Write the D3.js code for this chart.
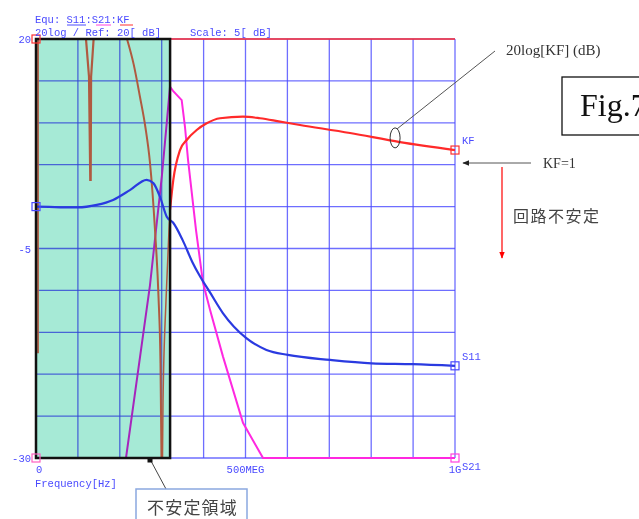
<!DOCTYPE html>
<html><head><meta charset="utf-8">
<script src="https://cdn.jsdelivr.net/npm/d3@7"></script>
<style>
html,body{margin:0;padding:0;background:#fff;}
svg{display:block;}
.mono{font-family:"Liberation Mono","DejaVu Sans Mono",monospace;font-size:10.5px;fill:#4a4aff;}
.serif{font-family:"Liberation Serif","DejaVu Serif",serif;fill:#333;}
.cjk{font-family:"Noto Sans CJK JP","Noto Sans CJK SC",sans-serif;fill:#444;}
</style></head>
<body>
<script>
// ---- data ----
const xTickLabels = [{v:0,t:"0"},{v:500,t:"500MEG"},{v:1000,t:"1G"}];
const yTickLabels = [{v:20,t:"20"},{v:-5,t:"-5"},{v:-30,t:"-30"}];
const freqMHz_S11 = [0,100,145,184,225,264,280,296,312,327,350,373,390,416,446,502,550,601,702,801,900,1000];
const dB_S11      = [0,-0.1,0.2,0.8,2.0,3.2,2.8,1.15,-1.2,-1.9,-4.0,-6.6,-8.2,-10.3,-12.7,-15.7,-17.1,-17.7,-18.3,-18.7,-18.8,-19.0];
const freqMHz_S21 = [0,214.8,272,300.7,312.6,319.8,327,347.7,355.6,362.8,381.9,398.6,415.3,446.3,494,541.8,1000];
const dB_S21      = [-30,-30,-9.4,3.8,10.3,14.3,13.8,12.7,9.5,5.6,-2.8,-9.1,-12.3,-17.9,-25.8,-30,-30];
const freqMHz_KF  = [319.8,327.7,343.7,359.7,383.5,407.4,439.1,494,534.6,582.3,630,749.4,868.7,1000];
const dB_KF       = [-0.4,3.2,6.75,7.95,9.14,9.94,10.54,10.73,10.54,10.14,9.74,8.78,7.7,6.75];
// brown traces inside the unstable band
const freqMHz_brownA = [4.8,4.8];
const dB_brownA      = [20,-17.5];
const freqMHz_brownB = [119.3,126.5,129.5,130.5,131.5,137.5];
const dB_brownB      = [20,15.5,3.2,3.2,15.5,20];
const freqMHz_brownC = [217.2,233,248.2,261,272.1,284,292.4,297.1,299.5];
const dB_brownC      = [20,17,13.08,9.5,5.2,-2.8,-10.8,-18.7,-30];
const freqMHz_brownD = [301.9,303.1,310.3,317.4,319.8];
const dB_brownD      = [-30,-23.4,-11.15,-2.8,-0.4];
const unstableBandMHz = [0,320];
const kfEllipseAt = {f:857,db:8.2};

const W=639,H=519;
const svg=d3.select("body").append("svg").attr("width",W).attr("height",H);
const x=d3.scaleLinear().domain([0,1000]).range([36,455]);
const y=d3.scaleLinear().domain([-30,20]).range([458,39]);
const zip=(a,b)=>a.map((v,i)=>[v,b[i]]);

// grid
const gridC="#4a4aff";
svg.append("g").selectAll("line").data(d3.range(0,1001,100)).join("line")
 .attr("x1",d=>x(d)).attr("x2",d=>x(d)).attr("y1",y(20)).attr("y2",y(-30))
 .attr("stroke",gridC).attr("stroke-width",1.3).attr("opacity",0.8);
svg.append("g").selectAll("line").data(d3.range(-30,21,5)).join("line")
 .attr("x1",x(0)).attr("x2",x(1000)).attr("y1",d=>y(d)).attr("y2",d=>y(d))
 .attr("stroke",gridC).attr("stroke-width",1.3).attr("opacity",0.8);
// top border red (KF clipped)
svg.append("line").attr("x1",x(0)).attr("x2",x(1000)).attr("y1",y(20)).attr("y2",y(20))
 .attr("stroke","#ff3030").attr("stroke-width",1.5);

const lineLin=d3.line().x(d=>x(d[0])).y(d=>y(d[1]));
const lineSm=d3.line().x(d=>x(d[0])).y(d=>y(d[1])).curve(d3.curveMonotoneX);

// S21 magenta
svg.append("path").attr("d",lineLin(zip(freqMHz_S21,dB_S21))).attr("fill","none")
 .attr("stroke","#ff28e0").attr("stroke-width",2);
// KF red
svg.append("path").attr("d",lineSm(zip(freqMHz_KF,dB_KF))).attr("fill","none")
 .attr("stroke","#ff2a2a").attr("stroke-width",2.2);

// unstable band overlay (multiply)
svg.append("rect").attr("x",x(unstableBandMHz[0])).attr("y",y(20))
 .attr("width",x(unstableBandMHz[1])-x(unstableBandMHz[0])).attr("height",y(-30)-y(20))
 .attr("fill","#a6ead6").style("mix-blend-mode","multiply");

// brown traces
const brownC="#b05a40";
svg.append("path").attr("d",lineLin(zip(freqMHz_brownA,dB_brownA))).attr("fill","none").attr("stroke",brownC).attr("stroke-width",1.8);
svg.append("path").attr("d",lineLin(zip(freqMHz_brownB,dB_brownB))).attr("fill","none").attr("stroke",brownC).attr("stroke-width",2.2);
svg.append("path").attr("d",lineSm(zip(freqMHz_brownC,dB_brownC))).attr("fill","none").attr("stroke",brownC).attr("stroke-width",2);
svg.append("path").attr("d",lineSm(zip(freqMHz_brownD,dB_brownD))).attr("fill","none").attr("stroke",brownC).attr("stroke-width",1.5);
// S11 blue
svg.append("path").attr("d",lineSm(zip(freqMHz_S11,dB_S11))).attr("fill","none")
 .attr("stroke","#2a3ae0").attr("stroke-width",2.2);

// band border
svg.append("rect").attr("x",x(unstableBandMHz[0])).attr("y",y(20))
 .attr("width",x(unstableBandMHz[1])-x(unstableBandMHz[0])).attr("height",y(-30)-y(20))
 .attr("fill","none").attr("stroke","#111").attr("stroke-width",2.5);

// markers
const mk=(f,db,c)=>svg.append("rect").attr("x",x(f)-4).attr("y",y(db)-4).attr("width",8).attr("height",8)
 .attr("fill","none").attr("stroke",c).attr("stroke-width",1.2);
mk(0,20,"#ff3030"); mk(0,dB_S11[0],"#4a4aff"); mk(0,-30,"#ff60c0");
mk(1000,dB_KF[dB_KF.length-1],"#ff3030"); mk(1000,dB_S11[dB_S11.length-1],"#4a4aff"); mk(1000,-30,"#ff40e0");

// axis labels
svg.append("g").selectAll("text").data(yTickLabels).join("text").attr("class","mono")
 .attr("x",x(0)-5).attr("y",d=>y(d.v)+4).attr("text-anchor","end").text(d=>d.t);
svg.append("g").selectAll("text").data(xTickLabels).join("text").attr("class","mono")
 .attr("x",d=>x(d.v)).attr("y",473).attr("text-anchor",d=>d.v===0?"start":"middle").text(d=>d.t);
svg.append("text").attr("class","mono").attr("x",35).attr("y",487).text("Frequency[Hz]");
// header
svg.append("text").attr("class","mono").attr("x",35).attr("y",23).text("Equ: S11:S21:KF");
svg.append("text").attr("class","mono").attr("x",35).attr("y",36).text("20log / Ref: 20[ dB]");
svg.append("text").attr("class","mono").attr("x",190).attr("y",36).text("Scale: 5[ dB]");
svg.append("line").attr("x1",67).attr("x2",86).attr("y1",25).attr("y2",25).attr("stroke","#4a4aff");
svg.append("line").attr("x1",96).attr("x2",111).attr("y1",25).attr("y2",25).attr("stroke","#ff40e0");
svg.append("line").attr("x1",120).attr("x2",133).attr("y1",25).attr("y2",25).attr("stroke","#ff3030");
// right labels
svg.append("text").attr("class","mono").attr("x",462).attr("y",y(dB_KF[dB_KF.length-1])-6).text("KF");
svg.append("text").attr("class","mono").attr("x",462).attr("y",y(dB_S11[dB_S11.length-1])-6).text("S11");
svg.append("text").attr("class","mono").attr("x",462).attr("y",470).text("S21");

// annotations
const ex=x(kfEllipseAt.f), ey=y(kfEllipseAt.db);
svg.append("ellipse").attr("cx",ex).attr("cy",ey).attr("rx",5).attr("ry",10)
 .attr("fill","none").attr("stroke","#333").attr("stroke-width",1);
svg.append("line").attr("x1",ex+2).attr("y1",ey-9).attr("x2",495).attr("y2",51).attr("stroke","#555").attr("stroke-width",1);
svg.append("text").attr("class","serif").attr("x",506).attr("y",55).attr("font-size",15).text("20log[KF] (dB)");

svg.append("rect").attr("x",562).attr("y",77).attr("width",90).attr("height",58).attr("fill","#fff").attr("stroke","#111").attr("stroke-width",1.3);
svg.append("text").attr("class","serif").attr("x",580).attr("y",116).attr("font-size",32).style("fill","#111").text("Fig.7");

const defs=svg.append("defs");
defs.append("marker").attr("id","ah").attr("viewBox","0 0 10 10").attr("refX",9).attr("refY",5)
 .attr("markerWidth",7).attr("markerHeight",7).attr("orient","auto")
 .append("path").attr("d","M0,1 L10,5 L0,9 Z").attr("fill","#222");
defs.append("marker").attr("id","ahr").attr("viewBox","0 0 10 10").attr("refX",9).attr("refY",5)
 .attr("markerWidth",6).attr("markerHeight",6).attr("orient","auto")
 .append("path").attr("d","M0,1 L10,5 L0,9 Z").attr("fill","#f00");
svg.append("line").attr("x1",531).attr("y1",163).attr("x2",463).attr("y2",163)
 .attr("stroke","#555").attr("stroke-width",1).attr("marker-end","url(#ah)");
svg.append("text").attr("class","serif").attr("x",543).attr("y",168).attr("font-size",14).text("KF=1");
svg.append("line").attr("x1",502).attr("y1",167).attr("x2",502).attr("y2",258)
 .attr("stroke","#f00").attr("stroke-width",1.2).attr("marker-end","url(#ahr)");
svg.append("text").attr("class","cjk").attr("x",513).attr("y",222).attr("font-size",16).attr("letter-spacing",1.5).text("回路不安定");

svg.append("line").attr("x1",166).attr("y1",489).attr("x2",151).attr("y2",461).attr("stroke","#444").attr("stroke-width",1);
svg.append("rect").attr("x",147.5).attr("y",457.5).attr("width",5).attr("height",5).attr("fill","#111");
svg.append("rect").attr("x",136).attr("y",489).attr("width",111).attr("height",40).attr("fill","#fff").attr("stroke","#8aa8e0").attr("stroke-width",1.5);
svg.append("text").attr("class","cjk").attr("x",147).attr("y",514).attr("font-size",17).attr("letter-spacing",1.2).text("不安定領域");
</script>
</body></html>
